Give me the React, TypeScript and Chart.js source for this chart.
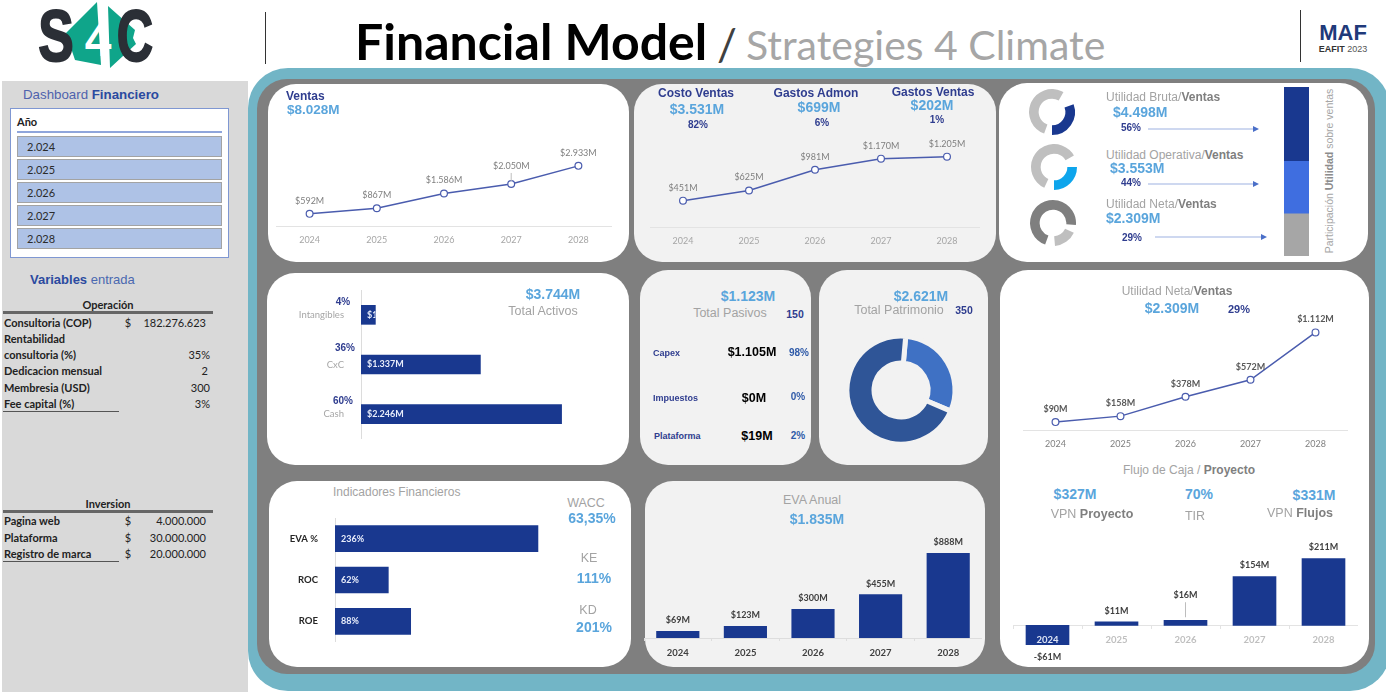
import React, { useEffect, useRef } from "react";
import { Chart, registerables } from "chart.js";

Chart.register(...registerables);

// ---------- data ----------
const years = ["2024", "2025", "2026", "2027", "2028"];
const ventas = [592, 867, 1586, 2050, 2933];
const costos = [451, 625, 981, 1170, 1205];
const utilidadNeta = [90, 158, 378, 572, 1112];
const evaAnual = [69, 123, 300, 455, 888];
const flujoCaja = [-61, 11, 16, 154, 211];
const activosCats = ["Intangibles", "CxC", "Cash"];
const activosVals = [161, 1337, 2246];
const indicadoresCats = ["EVA %", "ROC", "ROE"];
const indicadoresVals = [236, 62, 88];
const patrimonioVals = [1123, 2621];
const gaugeBruta = [110, 20, 190, 40];
const gaugeOperativa = [90, 25, 215, 30];
const gaugeNeta = [60, 25, 255, 20];
const participacion = [25, 31, 44];
const sliceYears = ["2.024", "2.025", "2.026", "2.027", "2.028"];

const NAVY = "#19388f";
const SKY = "#5aa5dc";
const INK = "#2f3d8f";
const GREY = "#a3a3a3";
const ARIAL = "'Liberation Sans', Arial, sans-serif";
const LATO = "Lato, sans-serif";

const money = (v: number) => {
  const s = Math.abs(v).toString().replace(/\B(?=(\d{3})+$)/g, ".");
  return (v < 0 ? "-" : "") + "$" + s + "M";
};
const pct = (v: number) => v + "%";
const formats: Record<string, (v: number) => string> = { money, pct };

// ---------- value-label plugin: reads positions from the chart's own elements ----------
const valueLabels = {
  id: "valueLabels",
  afterDatasetsDraw(chart: any) {
    const o = chart.options.plugins.valueLabels;
    if (!o || !o.format) return;
    const fmt = formats[o.format];
    const { ctx } = chart;
    const meta = chart.getDatasetMeta(0);
    const data = chart.data.datasets[0].data as number[];
    meta.data.forEach((el: any, i: number) => {
      ctx.save();
      ctx.font = o.font;
      ctx.fillStyle = o.color;
      if (o.inside) {
        const { x, base, y, height } = el.getProps(["x", "base", "y", "height"], true);
        ctx.beginPath();
        ctx.rect(base, y - height / 2, x - base, height);
        ctx.clip();
        ctx.textAlign = "left";
        ctx.textBaseline = "middle";
        ctx.fillText(fmt(data[i]), base + o.inset, y);
      } else {
        const up = (o.lift && o.lift[i]) || o.gap;
        const neg = data[i] < 0;
        const base = neg ? el.y + up + 2 : el.y - up;
        ctx.textAlign = "center";
        ctx.textBaseline = "middle";
        ctx.fillText(fmt(data[i]), el.x, base);
        if (o.lift && o.lift[i]) {
          ctx.strokeStyle = "#bdbdbd";
          ctx.lineWidth = 1;
          ctx.beginPath();
          ctx.moveTo(el.x, el.y - 3);
          ctx.lineTo(el.x, base + 7);
          ctx.stroke();
        }
      }
      ctx.restore();
    });
  },
};

const noLegend = { legend: { display: false }, tooltip: { enabled: false } };
const noPad = (s: any) => { s.paddingLeft = 0; s.paddingRight = 0; s.paddingTop = 0; s.paddingBottom = 0; };

function lineConfig(values: number[], ymax: number, label: any, tickColor: string, tickH = 30, pad = 1): any {
  return {
    type: "line",
    data: {
      labels: years,
      datasets: [{
        data: values, borderColor: "#4a5cae", borderWidth: 1.5, tension: 0,
        pointRadius: 3.4, pointBorderWidth: 1.2, pointBackgroundColor: "#ffffff", pointBorderColor: "#4a5cae",
      }],
    },
    options: {
      animation: false, responsive: false, layout: { padding: 0, autoPadding: false },
      plugins: { ...noLegend, valueLabels: label },
      scales: {
        y: { display: false, min: 0, max: ymax },
        x: {
          offset: true, afterFit: (s: any) => { s.height = tickH; noPad(s); },
          grid: { display: false }, border: { color: "#e3e3e3", width: 1 },
          ticks: { color: tickColor, padding: pad, maxRotation: 0, font: { family: LATO, size: 9 } },
        },
      },
    },
    plugins: [valueLabels],
  };
}

function hbarConfig(cats: string[], values: number[], xmax: number, thick: number, yw: number, tick: any, label: any, pad: number): any {
  return {
    type: "bar",
    data: { labels: cats, datasets: [{ data: values, backgroundColor: NAVY, barThickness: thick }] },
    options: {
      indexAxis: "y", animation: false, responsive: false, layout: { padding: 0, autoPadding: false },
      plugins: { ...noLegend, valueLabels: label },
      scales: {
        x: { display: false, min: 0, max: xmax },
        y: {
          afterFit: (s: any) => { s.width = yw; noPad(s); },
          grid: { display: false }, border: { color: "#dcdcdc", width: 1 },
          ticks: { ...tick, padding: pad },
        },
      },
    },
    plugins: [valueLabels],
  };
}

function gaugeConfig(values: number[], colors: string[], rotation: number): any {
  return {
    type: "doughnut",
    data: { datasets: [{ data: values, backgroundColor: colors, borderWidth: 0 }] },
    options: { animation: false, responsive: false, rotation, radius: 23, cutout: "58%", plugins: noLegend },
  };
}

const labelFont = `bold 9px ${LATO}`;

const configs: Record<string, any> = {
  ventas: lineConfig(ventas, 6340, { format: "money", font: `9px ${LATO}`, color: "#7f7f7f", gap: 13, lift: { 3: 18 } }, "#a6a6a6"),
  costos: lineConfig(costos, 2226, { format: "money", font: `9px ${LATO}`, color: "#7f7f7f", gap: 13 }, "#a6a6a6"),
  utilidad: lineConfig(utilidadNeta, 1367, { format: "money", font: labelFont, color: "#595959", gap: 13 }, "#808080"),
  activos: hbarConfig(activosCats, activosVals, 3012, 19, 71, { color: "#a6a6a6", font: { family: LATO, size: 9.5 } },
    { format: "money", inside: true, inset: 6, font: labelFont, color: "#e9eefb" }, 9),
  indicadores: hbarConfig(indicadoresCats, indicadoresVals, 290.7, 26, 55, { color: "#262626", font: { family: LATO, size: 9.5, weight: "bold" } },
    { format: "pct", inside: true, inset: 6, font: labelFont, color: "#e9eefb" }, 9),
  eva: {
    type: "bar",
    data: { labels: years, datasets: [{ data: evaAnual, backgroundColor: NAVY, barThickness: 42.5 }] },
    options: {
      animation: false, responsive: false, layout: { padding: 0, autoPadding: false },
      plugins: { ...noLegend, valueLabels: { format: "money", font: labelFont, color: "#404040", gap: 11 } },
      scales: {
        y: { display: false, min: 0, max: 1239 },
        x: {
          afterFit: (s: any) => { s.height = 26; noPad(s); },
          grid: { drawOnChartArea: false, tickLength: 3, color: "#dddddd" }, border: { color: "#dddddd" },
          ticks: { color: "#404040", padding: 6, font: { family: LATO, size: 9.5, weight: "bold" } },
        },
      },
    },
    plugins: [valueLabels],
  },
  flujo: {
    type: "bar",
    data: { labels: years, datasets: [{ data: flujoCaja, backgroundColor: NAVY, barThickness: 43 }] },
    options: {
      animation: false, responsive: false, layout: { padding: 0, autoPadding: false },
      plugins: { ...noLegend, valueLabels: { format: "money", font: labelFont, color: "#404040", gap: 11, lift: { 2: 25 } } },
      scales: {
        y: { display: false, min: -135, max: 276 },
        x: {
          position: { y: 0 },
          afterFit: noPad,
          grid: { drawOnChartArea: false, tickLength: 3, color: "#e3e3e3" }, border: { color: "#e3e3e3" },
          ticks: {
            z: 1, padding: 6,
            color: (c: any) => (c.index === 0 ? "#dfe5f5" : "#bfbfbf"),
            font: { family: LATO, size: 9.5, weight: "bold" },
          },
        },
      },
    },
    plugins: [valueLabels],
  },
  patrimonio: {
    type: "doughnut",
    data: { datasets: [{ data: patrimonioVals, backgroundColor: ["#3f71c4", "#2f5597"], borderColor: "#f2f2f2", borderWidth: 5 }] },
    options: { animation: false, responsive: false, rotation: 5, radius: 54, cutout: "50%", plugins: noLegend },
  },
  gauge1: gaugeConfig(gaugeBruta, [NAVY, "rgba(0,0,0,0)", "#bfbfbf", "rgba(0,0,0,0)"], 70),
  gauge2: gaugeConfig(gaugeOperativa, ["#0ea5ec", "rgba(0,0,0,0)", "#bfbfbf", "rgba(0,0,0,0)"], 90),
  gauge3: gaugeConfig(gaugeNeta, ["#bfbfbf", "rgba(0,0,0,0)", "#7f7f7f", "rgba(0,0,0,0)"], 115),
  stack: {
    type: "bar",
    data: {
      labels: ["x"],
      datasets: [
        { data: [participacion[0]], backgroundColor: "#a6a6a6" },
        { data: [participacion[1]], backgroundColor: "#3f6ee0" },
        { data: [participacion[2]], backgroundColor: NAVY },
      ],
    },
    options: {
      animation: false, responsive: false, layout: { padding: 0, autoPadding: false },
      datasets: { bar: { barPercentage: 1, categoryPercentage: 1 } },
      plugins: noLegend,
      scales: {
        x: { display: false, stacked: true },
        y: { display: false, stacked: true, min: 0, max: 100 },
      },
    },
  },
};

// ---------- helpers ----------
function ChartBox({ name, x, y, w, h }: { name: string; x: number; y: number; w: number; h: number }) {
  const ref = useRef<HTMLCanvasElement>(null);
  useEffect(() => {
    const chart = new Chart(ref.current as HTMLCanvasElement, configs[name]);
    return () => chart.destroy();
  }, [name]);
  return <canvas ref={ref} width={w} height={h} style={{ position: "absolute", left: x, top: y, width: w, height: h }} />;
}

type TP = { x: number; y: number; s: number; c?: string; b?: boolean; f?: string; a?: "l" | "c" | "r"; children: React.ReactNode };
function T({ x, y, s, c = "#000", b = false, f = ARIAL, a = "c", children }: TP) {
  const tx = a === "c" ? "-50%" : a === "r" ? "-100%" : "0";
  return (
    <div style={{
      position: "absolute", left: x, top: y, transform: `translate(${tx},-50%)`, fontSize: s, color: c,
      fontWeight: b ? 700 : 400, fontFamily: f, whiteSpace: "nowrap", lineHeight: 1,
    }}>{children}</div>
  );
}
const Bd = ({ c, children }: { c: string; children: React.ReactNode }) => <span style={{ fontWeight: 700, color: c }}>{children}</span>;

function Panel({ l, t, r, b, bg = "#fff" }: { l: number; t: number; r: number; b: number; bg?: string }) {
  return <div style={{ position: "absolute", left: l, top: t, width: r - l, height: b - t, background: bg, borderRadius: 28 }} />;
}
function Rule({ x, y, w, h = 1, c = "#555" }: { x: number; y: number; w: number; h?: number; c?: string }) {
  return <div style={{ position: "absolute", left: x, top: y, width: w, height: h, background: c }} />;
}
function Arrow({ x1, x2, y }: { x1: number; x2: number; y: number }) {
  return (
    <svg style={{ position: "absolute", left: x1, top: y - 4, width: x2 - x1, height: 8 }}>
      <line x1={0} y1={4} x2={x2 - x1 - 5} y2={4} stroke="#9db2e2" strokeWidth={1.2} />
      <polygon points={`${x2 - x1 - 6},1 ${x2 - x1},4 ${x2 - x1 - 6},7`} fill="#4a6fc8" />
    </svg>
  );
}

function Logo() {
  return (
    <svg style={{ position: "absolute", left: 30, top: 0, width: 135, height: 72 }} viewBox="30 0 135 72">
      <polygon points="66,33 97,2 101,65 75,60" fill="#0fa58a" />
      <polygon points="108,6 135,30 133,38 136,44 110,68" fill="#0fa58a" />
      <text x="56" y="61" textAnchor="middle" fontFamily="'Liberation Sans'" fontWeight="700" fontSize="72" fill="#2b2f36" stroke="#2b2f36" strokeWidth="2" transform="translate(56 0) scale(0.74 1) translate(-56 0)">S</text>
      <text x="135" y="61" textAnchor="middle" fontFamily="'Liberation Sans'" fontWeight="700" fontSize="72" fill="#2b2f36" stroke="#2b2f36" strokeWidth="2" transform="translate(135 0) scale(0.7 1) translate(-135 0)">C</text>
      <text x="98" y="56" textAnchor="middle" fontFamily="'Liberation Sans'" fontWeight="700" fontSize="48" fill="#ffffff">4</text>
    </svg>
  );
}

const tableText = { f: LATO, s: 11, b: true, c: "#222" };

export default function App() {
  return (
    <div style={{ position: "fixed", left: 0, top: 0, width: 1386, height: 692, background: "#fff", overflow: "hidden" }}>
      {/* header */}
      <Logo />
      <Rule x={265} y={12} w={1} h={52} c="#333" />
      <T x={355} y={41} s={50} b f={LATO} a="l" c="#000">Financial Model</T>
      <T x={717} y={44} s={44} f={LATO} a="l" c="#404040">/</T>
      <T x={746} y={44} s={41} f={LATO} a="l" c="#a6a6a6">Strategies 4 Climate</T>
      <Rule x={1300} y={10} w={1} h={52} c="#333" />
      <T x={1343} y={33} s={22} b c="#1f3a7a">MAF</T>
      <T x={1343} y={49} s={9} c="#555"><b style={{ color: "#333" }}>EAFIT</b> 2023</T>

      {/* sidebar */}
      <div style={{ position: "absolute", left: 2, top: 81, width: 246, height: 611, background: "#d9d9d9" }} />
      <T x={23} y={95} s={13.3} a="l" c="#4f62ad">Dashboard <Bd c="#2b4aa0">Financiero</Bd></T>
      <div style={{ position: "absolute", left: 10, top: 108, width: 217, height: 148, background: "#fff", border: "1.5px solid #7f97d2" }} />
      <T x={17} y={121} s={11} b f={LATO} a="l" c="#222">Año</T>
      <Rule x={17} y={131} w={205} h={2} c="#8fa5db" />
      {sliceYears.map((yr, i) => (
        <React.Fragment key={yr}>
          <div style={{ position: "absolute", left: 17, top: 136 + i * 23, width: 203, height: 19, background: "#aec2e6", border: "1px solid #a3a3a3" }} />
          <T x={27} y={146 + i * 23} s={11} f={LATO} a="l" c="#2b2b2b">{yr}</T>
        </React.Fragment>
      ))}
      <T x={30} y={279} s={13} a="l" c="#4a68b0"><Bd c="#2b4aa0">Variables</Bd> entrada</T>

      <T x={108} y={304} {...tableText}>Operación</T>
      <Rule x={3} y={311} w={210} h={3} c="#666" />
      <T x={4} y={322} a="l" {...tableText}>Consultoria (COP)</T>
      <T x={128} y={322} {...tableText} b={false}>$</T>
      <T x={206} y={322} a="r" {...tableText} b={false}>182.276.623</T>
      <T x={4} y={338} a="l" {...tableText}>Rentabilidad</T>
      <T x={4} y={354} a="l" {...tableText}>consultoria (%)</T>
      <T x={210} y={354} a="r" {...tableText} b={false}>35%</T>
      <T x={4} y={370} a="l" {...tableText}>Dedicacion mensual</T>
      <T x={208} y={370} a="r" {...tableText} b={false}>2</T>
      <T x={4} y={387} a="l" {...tableText}>Membresia (USD)</T>
      <T x={210} y={387} a="r" {...tableText} b={false}>300</T>
      <T x={4} y={403} a="l" {...tableText}>Fee capital (%)</T>
      <T x={210} y={403} a="r" {...tableText} b={false}>3%</T>
      <Rule x={3} y={411} w={116} h={1} c="#555" />

      <T x={108} y={503} {...tableText}>Inversion</T>
      <Rule x={3} y={510} w={210} h={3} c="#666" />
      <T x={4} y={520} a="l" {...tableText}>Pagina web</T>
      <T x={128} y={520} {...tableText} b={false}>$</T>
      <T x={206} y={520} a="r" {...tableText} b={false}>4.000.000</T>
      <T x={4} y={537} a="l" {...tableText}>Plataforma</T>
      <T x={128} y={537} {...tableText} b={false}>$</T>
      <T x={206} y={537} a="r" {...tableText} b={false}>30.000.000</T>
      <T x={4} y={553} a="l" {...tableText}>Registro de marca</T>
      <T x={128} y={553} {...tableText} b={false}>$</T>
      <T x={206} y={553} a="r" {...tableText} b={false}>20.000.000</T>
      <Rule x={3} y={561} w={116} h={1} c="#555" />

      {/* frame */}
      <div style={{ position: "absolute", left: 248, top: 68, width: 1142, height: 623, background: "#72b5c6", borderRadius: 40 }} />
      <div style={{ position: "absolute", left: 257, top: 79, width: 1118, height: 595, background: "#7f7f7f", borderRadius: 30 }} />

      {/* panels */}
      <Panel l={268} t={84} r={629} b={262} />
      <Panel l={634} t={84} r={996} b={262} bg="#f2f2f2" />
      <Panel l={999} t={83} r={1368} b={262} />
      <Panel l={267} t={273} r={629} b={465} />
      <Panel l={640} t={270} r={811} b={465} bg="#f2f2f2" />
      <Panel l={819} t={270} r={988} b={465} bg="#f2f2f2" />
      <Panel l={269} t={481} r={631} b={667} />
      <Panel l={645} t={481} r={985} b={667} bg="#f2f2f2" />
      <Panel l={1000} t={270} r={1369} b={667} />

      {/* charts */}
      <ChartBox name="ventas" x={276} y={96} w={336} h={160} />
      <ChartBox name="costos" x={650} y={97} w={330} h={160} />
      <ChartBox name="utilidad" x={1023} y={310} w={325} h={150} />
      <ChartBox name="activos" x={290} y={290} w={340} h={149} />
      <ChartBox name="indicadores" x={280} y={518} w={305} h={124} />
      <ChartBox name="eva" x={644} y={520} w={338} h={144} />
      <ChartBox name="flujo" x={1013} y={538} w={345} h={130} />
      <ChartBox name="patrimonio" x={841} y={330} w={120} h={120} />
      <ChartBox name="gauge1" x={1024} y={84} w={56} h={56} />
      <ChartBox name="gauge2" x={1026} y={139} w={56} h={56} />
      <ChartBox name="gauge3" x={1025} y={195} w={56} h={56} />
      <ChartBox name="stack" x={1284} y={87} w={25} h={169} />

      {/* P1 */}
      <T x={286} y={96} s={12} b a="l" c={INK}>Ventas</T>
      <T x={287} y={110} s={13.5} b a="l" c={SKY}>$8.028M</T>
      {/* P2 */}
      <T x={696} y={93} s={12} b c={INK}>Costo Ventas</T>
      <T x={697} y={109} s={14} b c={SKY}>$3.531M</T>
      <T x={698} y={125} s={10} b c={INK}>82%</T>
      <T x={816} y={93} s={12} b c={INK}>Gastos Admon</T>
      <T x={819} y={107} s={14} b c={SKY}>$699M</T>
      <T x={822} y={123} s={10} b c={INK}>6%</T>
      <T x={933} y={92} s={12} b c={INK}>Gastos Ventas</T>
      <T x={932} y={105} s={14} b c={SKY}>$202M</T>
      <T x={937} y={120} s={10} b c={INK}>1%</T>
      {/* P3 */}
      <T x={1106} y={97} s={12} a="l" c={GREY}>Utilidad Bruta/<Bd c="#7f7f7f">Ventas</Bd></T>
      <T x={1113} y={112} s={14} b a="l" c={SKY}>$4.498M</T>
      <T x={1121} y={128} s={10} b a="l" c={INK}>56%</T>
      <Arrow x1={1148} x2={1259} y={129} />
      <T x={1106} y={155} s={12} a="l" c={GREY}>Utilidad Operativa/<Bd c="#7f7f7f">Ventas</Bd></T>
      <T x={1110} y={168} s={14} b a="l" c={SKY}>$3.553M</T>
      <T x={1121} y={183} s={10} b a="l" c={INK}>44%</T>
      <Arrow x1={1148} x2={1259} y={184} />
      <T x={1106} y={204} s={12} a="l" c={GREY}>Utilidad Neta/<Bd c="#7f7f7f">Ventas</Bd></T>
      <T x={1106} y={218} s={14} b a="l" c={SKY}>$2.309M</T>
      <T x={1122} y={238} s={10} b a="l" c={INK}>29%</T>
      <Arrow x1={1155} x2={1267} y={237} />
      <div style={{
        position: "absolute", left: 1329, top: 171, transform: "translate(-50%,-50%) rotate(-90deg)",
        fontFamily: ARIAL, fontSize: 10.5, color: "#a6a6a6", whiteSpace: "nowrap",
      }}>Participación <Bd c="#8c8c8c">Utilidad</Bd> sobre ventas</div>
      {/* P4 */}
      <T x={553} y={294} s={14} b c={SKY}>$3.744M</T>
      <T x={543} y={311} s={12.5} c={GREY}>Total Activos</T>
      <T x={343} y={302} s={10} b c={INK}>4%</T>
      <T x={345} y={348} s={10} b c={INK}>36%</T>
      <T x={343} y={401} s={10} b c={INK}>60%</T>
      {/* P5 */}
      <T x={748} y={296} s={14} b c={SKY}>$1.123M</T>
      <T x={730} y={313} s={12.5} c={GREY}>Total Pasivos</T>
      <T x={795} y={314} s={10.5} b c={INK}>150</T>
      <T x={653} y={353} s={9} b a="l" c={INK}>Capex</T>
      <T x={752} y={352} s={12.5} b c="#000">$1.105M</T>
      <T x={799} y={353} s={10} b c="#2f5aa8">98%</T>
      <T x={653} y={398} s={9} b a="l" c={INK}>Impuestos</T>
      <T x={754} y={398} s={12.5} b c="#000">$0M</T>
      <T x={798} y={397} s={10} b c="#2f5aa8">0%</T>
      <T x={654} y={436} s={9} b a="l" c={INK}>Plataforma</T>
      <T x={757} y={436} s={12.5} b c="#000">$19M</T>
      <T x={798} y={436} s={10} b c="#2f5aa8">2%</T>
      {/* P6 */}
      <T x={921} y={296} s={14} b c={SKY}>$2.621M</T>
      <T x={899} y={310} s={12.5} c={GREY}>Total Patrimonio</T>
      <T x={964} y={310} s={10.5} b c={INK}>350</T>
      {/* P7 */}
      <T x={333} y={492} s={12} a="l" c={GREY}>Indicadores Financieros</T>
      <T x={586} y={503} s={12.5} c={GREY}>WACC</T>
      <T x={592} y={518} s={14} b c={SKY}>63,35%</T>
      <T x={589} y={558} s={12.5} c={GREY}>KE</T>
      <T x={594} y={578} s={14} b c={SKY}>111%</T>
      <T x={588} y={610} s={12.5} c={GREY}>KD</T>
      <T x={594} y={627} s={14} b c={SKY}>201%</T>
      {/* P8 */}
      <T x={812} y={500} s={12.5} c={GREY}>EVA Anual</T>
      <T x={817} y={519} s={14} b c={SKY}>$1.835M</T>
      {/* P9 */}
      <T x={1177} y={291} s={12} c={GREY}>Utilidad Neta/<Bd c="#7f7f7f">Ventas</Bd></T>
      <T x={1172} y={308} s={14} b c={SKY}>$2.309M</T>
      <T x={1239} y={309} s={11} b c={INK}>29%</T>
      <T x={1189} y={470} s={12} c={GREY}>Flujo de Caja / <Bd c="#7f7f7f">Proyecto</Bd></T>
      <T x={1075} y={494} s={14} b c={SKY}>$327M</T>
      <T x={1199} y={494} s={14} b c={SKY}>70%</T>
      <T x={1314} y={495} s={14} b c={SKY}>$331M</T>
      <T x={1092} y={514} s={12.5} c={GREY}>VPN <Bd c="#7f7f7f">Proyecto</Bd></T>
      <T x={1195} y={516} s={12.5} c={GREY}>TIR</T>
      <T x={1300} y={513} s={12.5} c={GREY}>VPN <Bd c="#7f7f7f">Flujos</Bd></T>
    </div>
  );
}
